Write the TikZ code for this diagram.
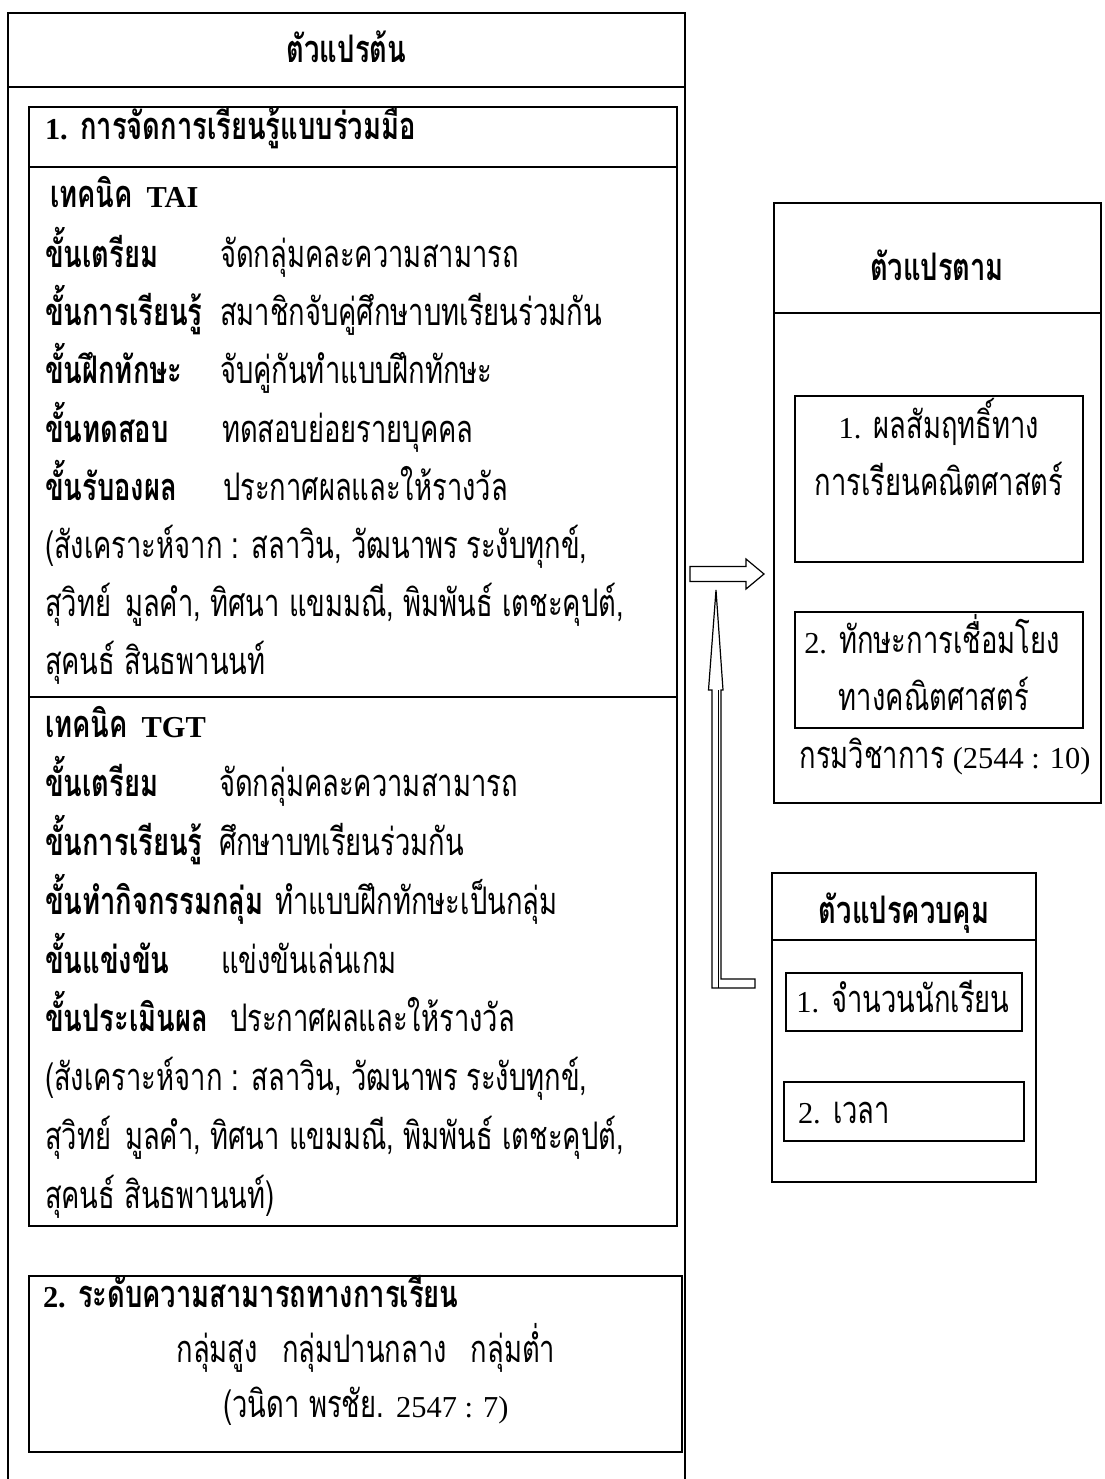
\documentclass[tikz,border=0pt]{standalone}
\usepackage{fontspec}
\setmainfont[Script=Thai,FakeStretch=0.72]{Loma}
\newfontfamily\lat[Scale=0.8]{Liberation Serif}
\newcommand\fs{\fontsize{38}{42}\selectfont}
\tikzset{
  ln/.style={anchor=base west, inner sep=0pt, outer sep=0pt, font=\fs},
  lc/.style={anchor=base, inner sep=0pt, outer sep=0pt, font=\fs},
  thinbox/.style={draw, line width=1.2pt, inner sep=0pt, outer sep=0pt, anchor=north west},
  thickbox/.style={draw, line width=2pt, inner sep=0pt, outer sep=0pt, anchor=north west},
  midbox/.style={draw, line width=1.7pt, inner sep=0pt, outer sep=0pt, anchor=north west},
  blockarrow/.style={draw, line width=1.2pt, fill=white, line join=miter},
}
\begin{document}
\begin{tikzpicture}[x=1pt,y=-1pt]
\useasboundingbox (0,0) rectangle (1104,1479);
\fill[white] (0,0) rectangle (1104,1479);
% ---------- left: independent variables
\node[thinbox, minimum width=677pt, minimum height=74pt] (ivtitle) at (8,13) {};
\draw[line width=1.2pt] (ivtitle.south west) -- (8,1479);
\draw[line width=1.2pt] (ivtitle.south east) -- (685,1479);
\node[lc] (ivt) at (346.5,63) {\bfseries ตัวแปรต้น};

\node[thickbox, minimum width=648pt, minimum height=60pt] (coophead) at (29,107) {};
\node[thickbox, minimum width=648pt, minimum height=530pt] (tai) at (29,167) {};
\node[thickbox, minimum width=648pt, minimum height=529pt] (tgt) at (29,697) {};
\node[ln] (h1) at (45,140) {\bfseries{\lat 1.} การจัดการเรียนรู้แบบร่วมมือ};

% TAI
\node[ln] (a0) at (50,208) {\bfseries เทคนิค\hspace{14pt}{\lat TAI}};
\node[ln] (a1) at (45,267) {\bfseries ขั้นเตรียม};
\node[ln] (a1d) at (220,267) {จัดกลุ่มคละความสามารถ};
\node[ln] (a2) at (45,325) {\bfseries ขั้นการเรียนรู้};
\node[ln] (a2d) at (220,325) {สมาชิกจับคู่ศึกษาบทเรียนร่วมกัน};
\node[ln] (a3) at (45,383) {\bfseries ขั้นฝึกทักษะ};
\node[ln] (a3d) at (220,383) {จับคู่กันทำแบบฝึกทักษะ};
\node[ln] (a4) at (45,442) {\bfseries ขั้นทดสอบ};
\node[ln] (a4d) at (222,442) {ทดสอบย่อยรายบุคคล};
\node[ln] (a5) at (45,500) {\bfseries ขั้นรับองผล};
\node[ln] (a5d) at (223,500) {ประกาศผลและให้รางวัล};
\node[ln] (a6) at (45,558) {(สังเคราะห์จาก : สลาวิน, วัฒนาพร\hspace{8pt}ระงับทุกข์,};
\node[ln] (a7) at (45,616) {สุวิทย์\hspace{14pt}มูลคำ, ทิศนา แขมมณี, พิมพันธ์ เตชะคุปต์,};
\node[ln] (a8) at (45,674) {สุคนธ์ สินธพานนท์};

% TGT
\node[ln] (b0) at (45,737) {\bfseries เทคนิค\hspace{14pt}{\lat TGT}};
\node[ln] (b1) at (45,796) {\bfseries ขั้นเตรียม};
\node[ln] (b1d) at (219,796) {จัดกลุ่มคละความสามารถ};
\node[ln] (b2) at (45,855) {\bfseries ขั้นการเรียนรู้};
\node[ln] (b2d) at (219,855) {ศึกษาบทเรียนร่วมกัน};
\node[ln] (b3) at (45,914) {\bfseries ขั้นทำกิจกรรมกลุ่ม};
\node[ln] (b3d) at (275,914) {ทำแบบฝึกทักษะเป็นกลุ่ม};
\node[ln] (b4) at (45,973) {\bfseries ขั้นแข่งขัน};
\node[ln] (b4d) at (221,973) {แข่งขันเล่นเกม};
\node[ln] (b5) at (45,1031) {\bfseries ขั้นประเมินผล};
\node[ln] (b5d) at (230,1031) {ประกาศผลและให้รางวัล};
\node[ln] (b6) at (45,1090) {(สังเคราะห์จาก : สลาวิน, วัฒนาพร\hspace{8pt}ระงับทุกข์,};
\node[ln] (b7) at (45,1149) {สุวิทย์\hspace{14pt}มูลคำ, ทิศนา แขมมณี, พิมพันธ์ เตชะคุปต์,};
\node[ln] (b8) at (45,1208) {สุคนธ์ สินธพานนท์)};

% ability
\node[thickbox, minimum width=653pt, minimum height=176pt] (ability) at (29,1276) {};
\node[ln] (c0) at (43,1307) {\bfseries{\lat 2.} ระดับความสามารถทางการเรียน};
\node[lc] (c1) at (366,1362) {กลุ่มสูง\hspace{24pt}กลุ่มปานกลาง\hspace{24pt}กลุ่มต่ำ};
\node[lc] (c2) at (366,1417) {(วนิดา พรชัย. {\lat 2547 : 7)}};

% ---------- right: dependent variables
\node[thinbox, minimum width=327pt, minimum height=110pt] (dvtitle) at (774,203) {};
\node[thinbox, minimum width=327pt, minimum height=490pt] (dvbody) at (774,313) {};
\node[lc] (dvt) at (937,280) {\bfseries ตัวแปรตาม};
\node[thickbox, minimum width=288pt, minimum height=166pt] (dva) at (795,396) {};
\node[lc] (dva1) at (939,438) {{\lat 1.} ผลสัมฤทธิ์ทาง};
\node[lc] (dva2) at (939,495) {การเรียนคณิตศาสตร์};
\node[thickbox, minimum width=288pt, minimum height=116pt] (dvb) at (795,612) {};
\node[lc] (dvb1) at (932,653) {{\lat 2.} ทักษะการเชื่อมโยง};
\node[lc] (dvb2) at (934,710) {ทางคณิตศาสตร์};
\node[lc] (dvsrc) at (945,768) {กรมวิชาการ\hspace{8pt}{\lat (2544 : 10)}};

% ---------- control variables
\node[midbox, minimum width=264pt, minimum height=67pt] (cvtitle) at (772,873) {};
\node[midbox, minimum width=264pt, minimum height=242pt] (cvbody) at (772,940) {};
\node[lc] (cvt) at (904,923) {\bfseries ตัวแปรควบคุม};
\node[thickbox, minimum width=236pt, minimum height=58pt] (cva) at (786,973) {};
\node[lc] (cva1) at (903,1012) {{\lat 1.} จำนวนนักเรียน};
\node[thickbox, minimum width=240pt, minimum height=59pt] (cvb) at (784,1082) {};
\node[ln] (cvb1) at (798,1123) {{\lat 2.} เวลา};

% ---------- block arrows
\coordinate (rtail) at (690,574);
\coordinate (rtip) at (764,574);
\draw[blockarrow] (rtail) ++(0,-7.5) -- (746,566.5) -- (746,559) -- (rtip) -- (746,589) -- (746,581.5) -- (690,581.5) -- cycle;
\coordinate (utip) at (716,590);
\draw[blockarrow] (712,988) -- (712,690) -- (708.5,690) -- (utip) -- (723,690) -- (721,690) -- (721,979) -- (755,979) -- (755,988) -- cycle;
\draw[line width=0.8pt] (718,690) -- (718,988);
\end{tikzpicture}
\end{document}
